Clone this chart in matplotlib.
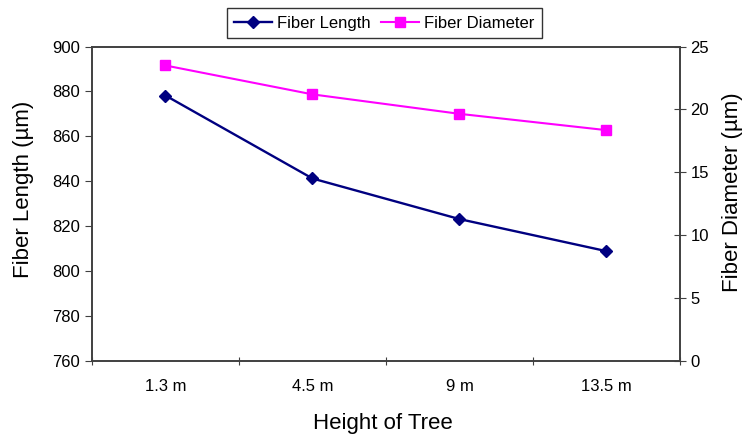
import matplotlib
matplotlib.use("Agg")
import matplotlib.pyplot as plt

heights = ["1.3 m", "4.5 m", "9 m", "13.5 m"]
fiber_length = [878.2, 841.2, 823.1, 808.8]
fiber_diameter = [23.5, 21.2, 19.65, 18.35]

plt.rcParams["font.family"] = ["Liberation Sans", "DejaVu Sans"]

fig = plt.figure(figsize=(7.48, 4.36), dpi=100)
ax = fig.add_axes([0.123, 0.173, 0.786, 0.720])
ax2 = ax.twinx()

x = list(range(len(heights)))
l1, = ax.plot(x, fiber_length, color="#000080", marker="D", ms=6.5, lw=1.7,
              label="Fiber Length")
l2, = ax2.plot(x, fiber_diameter, color="#FF00FF", marker="s", ms=7.5, lw=1.5,
               label="Fiber Diameter")

ax.set_xlim(-0.5, len(heights) - 0.5)
ax.set_ylim(760, 900)
ax.set_yticks(range(760, 901, 20))
ax2.set_ylim(0, 25)
ax2.set_yticks(range(0, 26, 5))

# category labels between the boundary ticks, like a spreadsheet chart
ax.set_xticks([i - 0.5 for i in range(len(heights) + 1)])
ax.set_xticklabels([])
ax.set_xticks(x, minor=True)
ax.set_xticklabels(heights, minor=True, fontsize=12)
ax.tick_params(axis="x", which="minor", length=0, pad=13)
ax.tick_params(axis="x", which="major", direction="inout", length=6, color="#404040")
ax.tick_params(axis="y", direction="out", length=5, labelsize=12, color="#404040")
ax2.tick_params(axis="y", direction="inout", length=8, labelsize=12, color="#404040")

for a in (ax, ax2):
    for s in a.spines.values():
        s.set_color("#404040")
        s.set_linewidth(1.2)

ax.set_xlabel("Height of Tree", fontsize=16)
ax.set_ylabel("Fiber Length (µm)", fontsize=16)
ax2.set_ylabel("Fiber Diameter (µm)", fontsize=16)
ax.xaxis.set_label_coords(0.494, -0.199)
ax.xaxis.label.set_va("center")
ax.yaxis.set_label_coords(-0.116, 0.546)
ax.yaxis.label.set_va("center")
ax2.yaxis.set_label_coords(1.090, 0.537)
ax2.yaxis.label.set_va("center")

leg = fig.legend(handles=[l1, l2], loc="center", bbox_to_anchor=(0.514, 0.947),
                 ncol=2, fontsize=12, frameon=True, fancybox=False,
                 edgecolor="black", handlelength=2.3, handletextpad=0.3,
                 columnspacing=0.6, borderpad=0.45)
leg.get_frame().set_linewidth(1.0)

fig.savefig("out.png", dpi=100)
